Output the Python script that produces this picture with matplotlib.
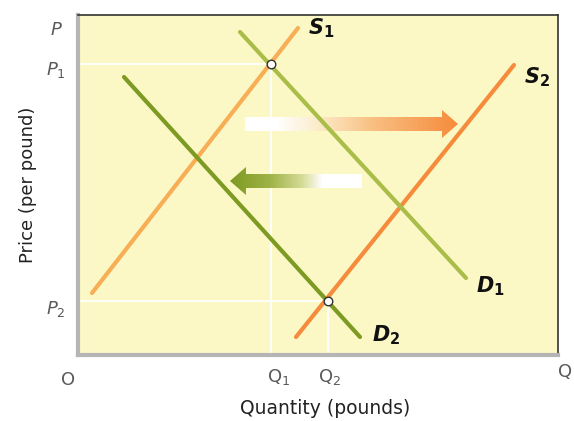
import numpy as np
import matplotlib; matplotlib.use("Agg")
import matplotlib.pyplot as plt
from matplotlib.patches import FancyArrow
from matplotlib.colors import LinearSegmentedColormap

# curve endpoints (quantity, price) in arbitrary units
s1_q = [14, 220];  s1_p = [62, 327]
s2_q = [218, 436]; s2_p = [18, 290]
d1_q = [162, 388]; d1_p = [323, 77]
d2_q = [46, 282];  d2_p = [278, 18]
eq_q = [193, 250]; eq_p = [291, 54]
shift_supply = (167, 380, 231)   # tail q, head q, price
shift_demand = (284, 152, 174)

BG = "#fbf8c6"
ORANGE1, ORANGE2 = "#f8ae55", "#f68b3c"
GREEN1, GREEN2 = "#a9bd48", "#7d9a22"
TXT = "#5a5a5a"

fig = plt.figure(figsize=(5.74, 4.21), dpi=100)
ax = fig.add_axes([78/574, 66/421, 480/574, 340/421])
ax.set_xlim(0, 480); ax.set_ylim(0, 340)
ax.set_facecolor(BG)
ax.set_xticks([]); ax.set_yticks([])
for side in ("top", "right"):
    ax.spines[side].set_color("#333333"); ax.spines[side].set_linewidth(1.2)
for side in ("left", "bottom"):
    ax.spines[side].set_color("#b5b5b5"); ax.spines[side].set_linewidth(3)

# white guide lines
for q, p in zip(eq_q, eq_p):
    ax.plot([0, q], [p, p], color="white", lw=1.3, zorder=1)
    ax.plot([q, q], [0, p], color="white", lw=1.3, zorder=1)

def grad_arrow(tail, head, y, cmap):
    arr = FancyArrow(tail, y, head - tail, 0, width=14, head_width=28,
                     head_length=16, length_includes_head=True,
                     facecolor="none", edgecolor="none")
    ax.add_patch(arr)
    g = np.linspace(0, 1, 256).reshape(1, -1)
    if head < tail:
        g = g[:, ::-1]
    lo, hi = min(tail, head), max(tail, head)
    im = ax.imshow(g, cmap=cmap, extent=[lo, hi, y - 15, y + 15],
                   aspect="auto", zorder=2, interpolation="bilinear")
    im.set_clip_path(arr)
    ax.set_xlim(0, 480); ax.set_ylim(0, 340)

grad_arrow(*shift_supply, LinearSegmentedColormap.from_list(
    "o", [(0, "#ffffff"), (0.15, "#ffffff"), (0.35, "#fcebc8"), (0.6, "#f9bf82"), (1, ORANGE2)]))
grad_arrow(*shift_demand, LinearSegmentedColormap.from_list(
    "g", [(0, "#ffffff"), (0.3, "#ffffff"), (0.45, "#d6dc98"), (0.7, "#9fb247"), (1, GREEN2)]))

ax.plot(s1_q, s1_p, color=ORANGE1, lw=3, solid_capstyle="round", zorder=3)
ax.plot(s2_q, s2_p, color=ORANGE2, lw=3, solid_capstyle="round", zorder=3)
ax.plot(d1_q, d1_p, color=GREEN1, lw=3, solid_capstyle="round", zorder=3)
ax.plot(d2_q, d2_p, color=GREEN2, lw=3, solid_capstyle="round", zorder=3)
ax.scatter(eq_q, eq_p, s=38, facecolor="white", edgecolor="#333333", lw=1, zorder=4)

ax.text(s1_q[1] + 10, s1_p[1], r"$\mathbfit{S}_\mathbf{1}$", fontsize=15, va="center", color="#111111")
ax.text(s2_q[1] + 10, s2_p[1] - 12, r"$\mathbfit{S}_\mathbf{2}$", fontsize=15, va="center", color="#111111")
ax.text(d1_q[1] + 10, d1_p[1] - 8, r"$\mathbfit{D}_\mathbf{1}$", fontsize=15, va="center", color="#111111")
ax.text(d2_q[1] + 12, d2_p[1] + 2, r"$\mathbfit{D}_\mathbf{2}$", fontsize=15, va="center", color="#111111")

# axis tick-like labels
ax.text(-15, 325, "$P$", ha="right", va="center", color=TXT, fontsize=13)
ax.text(-12, eq_p[0] - 6, "$P_1$", ha="right", va="center", color=TXT, fontsize=13)
ax.text(-12, eq_p[1] - 8, "$P_2$", ha="right", va="center", color=TXT, fontsize=13)
ax.text(-10, -25, "O", ha="center", va="center", color=TXT, fontsize=13)
ax.text(eq_q[0] + 8, -22, "Q$_1$", ha="center", va="center", color=TXT, fontsize=13)
ax.text(eq_q[1] + 2, -22, "Q$_2$", ha="center", va="center", color=TXT, fontsize=13)
ax.text(487, -17, "Q", ha="center", va="center", color=TXT, fontsize=13)

fig.text(325/574, 1 - 408/421, "Quantity (pounds)", ha="center", va="center", fontsize=13.5, color="#222222")
fig.text(28/574, 1 - 185/421, "Price (per pound)", ha="center", va="center", rotation=90, fontsize=13, color="#222222")

fig.savefig("out.png", dpi=100)
